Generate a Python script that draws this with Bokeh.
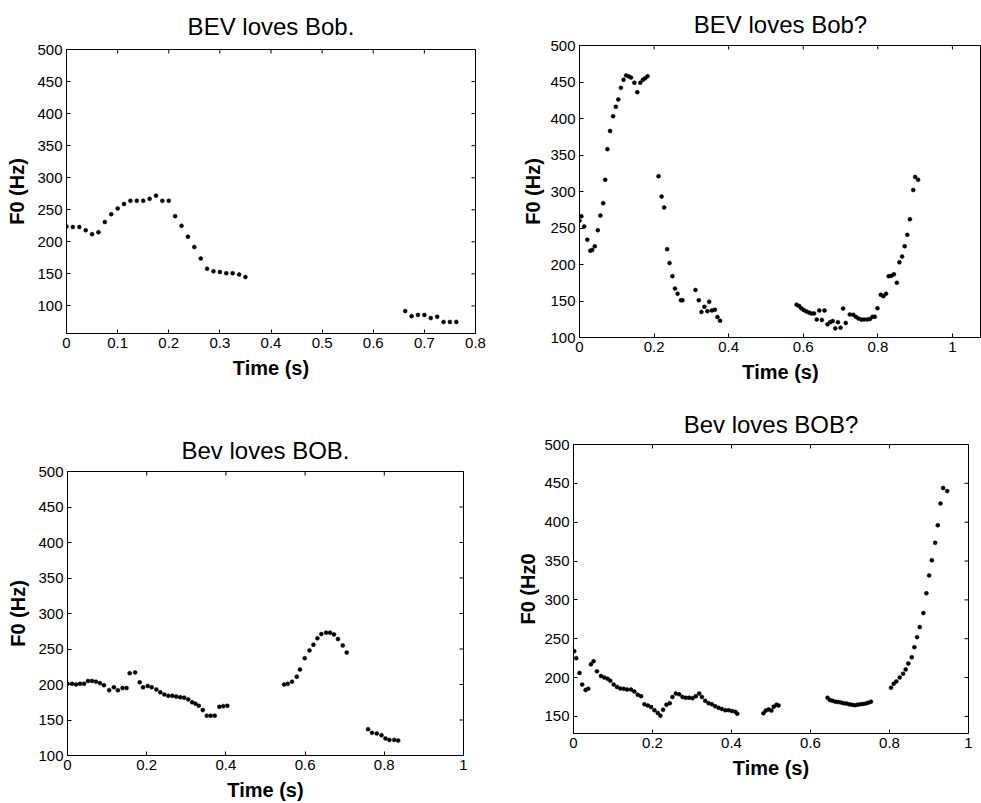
from math import pi

from bokeh.plotting import figure
from bokeh.layouts import column, row
from bokeh.models import Range1d, FixedTicker
from bokeh.embed import file_html
from bokeh.resources import INLINE

# ---- F0 tracks (time in s, F0 in Hz), one list pair per voiced stretch ----

# BEV loves Bob.
t_p1_a = [0, 0.0125, 0.025, 0.0375, 0.05, 0.0625, 0.075, 0.0875, 0.1, 0.1125,
          0.125, 0.1375, 0.15, 0.1625, 0.175, 0.1875, 0.2, 0.2125, 0.225, 0.2375,
          0.25, 0.2625, 0.275, 0.2875, 0.3, 0.3125, 0.325, 0.3375, 0.35]
f_p1_a = [224, 223, 223, 218, 212, 215, 231, 243, 252, 259,
          264, 264, 264, 267, 272, 264, 264, 240, 225, 208,
          192, 174, 158, 154, 153, 151, 151, 149, 145]
t_p1_b = [0.6625, 0.675, 0.6875, 0.70, 0.7125, 0.725, 0.7375, 0.75, 0.7625]
f_p1_b = [92, 84, 86, 86, 81, 83, 75, 75, 75]

# BEV loves Bob?
t_p2_a = [0.000, 0.005, 0.0125, 0.021, 0.029, 0.034, 0.041, 0.049, 0.056, 0.0635,
          0.069, 0.075, 0.082, 0.090, 0.0975, 0.104, 0.111, 0.118, 0.125, 0.1315,
          0.138, 0.147, 0.155, 0.163, 0.170, 0.176, 0.1825]
f_p2_a = [260, 266, 252, 234, 219, 220, 225, 247, 267, 284,
          316, 358, 383, 403, 416, 426, 442, 453, 459, 458,
          456, 449, 436, 449, 453, 455, 458]
t_p2_b = [0.212, 0.220, 0.227, 0.235, 0.2415, 0.249, 0.256, 0.263, 0.272, 0.276]
f_p2_b = [321, 293, 278, 221, 202, 184, 167, 160, 151, 151]
t_p2_c = [0.311, 0.320, 0.327, 0.335, 0.343, 0.348, 0.355, 0.363, 0.370, 0.377]
f_p2_c = [165, 151, 135, 142, 136, 149, 137, 138, 128, 123]
t_p2_d = [0.582, 0.589, 0.595, 0.602, 0.609, 0.616, 0.622, 0.629, 0.636, 0.643,
          0.650, 0.657, 0.665, 0.672, 0.679, 0.686, 0.693, 0.700, 0.707, 0.714,
          0.725, 0.734, 0.741, 0.748, 0.756, 0.763, 0.772, 0.779, 0.786, 0.792,
          0.799, 0.808, 0.815, 0.822, 0.829, 0.836, 0.843, 0.851, 0.858, 0.865,
          0.872, 0.879, 0.886, 0.895, 0.900, 0.908]
f_p2_d = [145, 143, 140, 137.5, 135.5, 134, 133, 133, 124.6, 137,
          124, 137, 118, 121, 122.5, 112.5, 121, 113.5, 139.6, 120,
          131.5, 131, 128.3, 126, 124.6, 124.6, 124.6, 125.5, 128.3, 128.3,
          140, 158.5, 156.5, 160, 184, 184.5, 186.5, 175, 203, 211,
          225, 240.6, 262, 302, 320, 316]

# Bev loves BOB.
t_p3_a = [0, 0.0116, 0.0217, 0.0317, 0.0418, 0.0518, 0.0619, 0.0719, 0.082, 0.092,
          0.1054, 0.1172, 0.1272, 0.139, 0.149, 0.157, 0.1708, 0.1825, 0.1909, 0.2026,
          0.2126, 0.2244, 0.2344, 0.2445, 0.2545, 0.2646, 0.2746, 0.2847, 0.2947, 0.3048,
          0.3148, 0.3232, 0.3316, 0.3416, 0.3517, 0.3617, 0.3718, 0.3835, 0.3935, 0.4036]
f_p3_a = [201, 201, 200, 201, 201, 205, 205, 204, 202, 199,
          192, 196, 192, 195, 195, 216, 217, 203, 196, 198,
          196, 193, 189, 186, 184, 184, 183, 182, 181.5, 179,
          175, 173, 170, 164, 156, 156, 156, 168.5, 169.5, 170]
t_p3_b = [0.547, 0.556, 0.567, 0.579, 0.587, 0.599, 0.611, 0.621, 0.631, 0.641,
          0.653, 0.663, 0.673, 0.683, 0.695, 0.705]
f_p3_b = [200, 201, 204, 211, 221, 237, 248, 256, 265, 271,
          273, 273, 270.5, 264, 255, 245]
t_p3_c = [0.759, 0.769, 0.781, 0.793, 0.803, 0.813, 0.825, 0.835]
f_p3_c = [137, 132, 131, 128.5, 124, 122, 122, 121]

# Bev loves BOB?
t_p4_a = [0.0018, 0.0069, 0.0153, 0.022, 0.0305, 0.0373, 0.0441, 0.0508, 0.0593, 0.0695,
          0.0779, 0.0864, 0.0931, 0.1016, 0.1101, 0.1185, 0.127, 0.1355, 0.1456, 0.154,
          0.1625, 0.171, 0.1794, 0.1879, 0.1964, 0.2048, 0.2133, 0.22, 0.2268, 0.2353,
          0.2437, 0.2505, 0.259, 0.2674, 0.2759, 0.2843, 0.2928, 0.3013, 0.3097, 0.3182,
          0.325, 0.3334, 0.3419, 0.3503, 0.3588, 0.3673, 0.3757, 0.3842, 0.3926, 0.4011,
          0.4096, 0.4146]
f_p4_a = [234, 225, 206, 191, 184, 185.5, 217, 221, 208, 202,
          200, 198.5, 196, 191, 188, 186, 185.5, 184.5, 184.5, 182,
          178, 176, 165.5, 164, 162, 158, 154.5, 151, 158.5, 165,
          167, 175, 179.5, 178.5, 175, 174, 174, 173.5, 176, 179.5,
          175, 170, 167, 165.5, 163, 161, 159.5, 158, 158, 157,
          156, 153.5]
t_p4_b = [0.481, 0.487, 0.494, 0.501, 0.507, 0.514, 0.519]
f_p4_b = [154, 157.5, 159, 157.5, 162.5, 165, 164]
t_p4_c = [0.643, 0.649, 0.656, 0.663, 0.670, 0.677, 0.684, 0.691, 0.698, 0.705,
          0.712, 0.719, 0.726, 0.733, 0.740, 0.746, 0.753]
f_p4_c = [174, 171, 170, 169, 168.5, 168, 167, 166.5, 165.5, 165,
          164.5, 165, 165.5, 166, 166.5, 167.5, 169]
t_p4_d = [0.8038, 0.8106, 0.8173, 0.8259, 0.8343, 0.841, 0.8477, 0.8563, 0.863, 0.8698,
          0.8766, 0.8858, 0.8934, 0.9003, 0.9071, 0.9155, 0.9223, 0.929, 0.9358, 0.946]
f_p4_d = [187, 192, 195, 200, 205, 210.5, 218, 226, 239, 252,
          265, 283, 308.5, 331.5, 351, 373.5, 396, 424, 444, 440]

# ---- ticks ----
x_ticks_tenths = [0, 0.1, 0.2, 0.3, 0.4, 0.5, 0.6, 0.7, 0.8]
x_labels_tenths = ["0", "0.1", "0.2", "0.3", "0.4", "0.5", "0.6", "0.7", "0.8"]
x_ticks_fifths = [0, 0.2, 0.4, 0.6, 0.8, 1]
x_labels_fifths = ["0", "0.2", "0.4", "0.6", "0.8", "1"]
y_ticks_from100 = [100, 150, 200, 250, 300, 350, 400, 450, 500]
y_ticks_from150 = [150, 200, 250, 300, 350, 400, 450, 500]

FONT = "Liberation Sans"
TICK_LEN = 4


def panel(title, segments, x_end, y_start, y_end, xticks, xlabels, yticks,
          ylabel, width, height, left, right, top, bottom,
          title_standoff=14, ylabel_standoff=6, box_ticks=True):
    p = figure(width=width, height=height,
               x_range=Range1d(0, x_end), y_range=Range1d(y_start, y_end),
               output_backend="svg", toolbar_location=None,
               min_border_left=left, min_border_right=right,
               min_border_top=top, min_border_bottom=bottom)
    try:
        p.frame_align = False
    except AttributeError:
        pass
    p.title.text = title
    p.title.align = "center"
    p.title.text_font = FONT
    p.title.text_font_size = "24px"
    p.title.text_font_style = "normal"
    p.title.text_color = "black"
    p.title.standoff = title_standoff
    p.grid.visible = False
    p.outline_line_color = "black"
    p.outline_line_alpha = 1
    p.outline_line_width = 1
    p.background_fill_color = "white"
    p.border_fill_color = "white"

    xa, ya = p.xaxis[0], p.yaxis[0]
    xa.ticker = FixedTicker(ticks=xticks)
    xa.major_label_overrides = dict(zip(xticks, xlabels))
    ya.ticker = FixedTicker(ticks=yticks)
    xa.axis_label = "Time (s)"
    ya.axis_label = ylabel
    for ax in (xa, ya):
        ax.major_tick_in = TICK_LEN
        ax.major_tick_out = 0
        ax.minor_tick_in = 0
        ax.minor_tick_out = 0
        ax.axis_line_color = "black"
        ax.major_tick_line_color = "black"
        ax.major_label_text_font = FONT
        ax.major_label_text_font_size = "15px"
        ax.major_label_text_color = "black"
        ax.axis_label_text_font = FONT
        ax.axis_label_text_font_size = "20px"
        ax.axis_label_text_font_style = "bold"
        ax.axis_label_text_color = "black"
        ax.major_label_standoff = 4
    xa.axis_label_standoff = 6
    ya.axis_label_standoff = ylabel_standoff

    # inward ticks along the top edge (and the right edge where it is shown)
    p.ray(x=xticks, y=[y_end] * len(xticks), length=TICK_LEN,
          length_units="screen", angle=-pi / 2, line_color="black")
    if box_ticks:
        p.ray(x=[x_end] * len(yticks), y=yticks, length=TICK_LEN,
              length_units="screen", angle=pi, line_color="black")

    for ts, fs in segments:
        p.scatter(ts, fs, marker="circle", size=4,
                  fill_color="black", line_color="black", line_width=0.5)
    return p


p1 = panel("BEV loves Bob.",
           [(t_p1_a, f_p1_a), (t_p1_b, f_p1_b)],
           0.8, 57, 500, x_ticks_tenths, x_labels_tenths, y_ticks_from100,
           "F0 (Hz)", 490, 400, 66, 15, 48, 67, title_standoff=20)
p2 = panel("BEV loves Bob?",
           [(t_p2_a, f_p2_a), (t_p2_b, f_p2_b), (t_p2_c, f_p2_c), (t_p2_d, f_p2_d)],
           1.078, 100, 500, x_ticks_fifths, x_labels_fifths, y_ticks_from100,
           "F0 (Hz)", 491, 400, 89, 0, 44, 63, title_standoff=16,
           ylabel_standoff=3, box_ticks=False)
p3 = panel("Bev loves BOB.",
           [(t_p3_a, f_p3_a), (t_p3_b, f_p3_b), (t_p3_c, f_p3_c)],
           1, 100, 500, x_ticks_fifths, x_labels_fifths, y_ticks_from100,
           "F0 (Hz)", 490, 403, 67, 27, 71, 44, title_standoff=16)
p4 = panel("Bev loves BOB?",
           [(t_p4_a, f_p4_a), (t_p4_b, f_p4_b), (t_p4_c, f_p4_c), (t_p4_d, f_p4_d)],
           1, 128, 500, x_ticks_fifths, x_labels_fifths, y_ticks_from150,
           "F0 (Hz0", 491, 403, 83, 13, 44, 70, ylabel_standoff=2)

layout = column(row(column(p1), column(p2), spacing=0),
                row(column(p3), column(p4), spacing=0), spacing=0)

with open("out.html", "w") as fh:
    fh.write(file_html(layout, INLINE))
